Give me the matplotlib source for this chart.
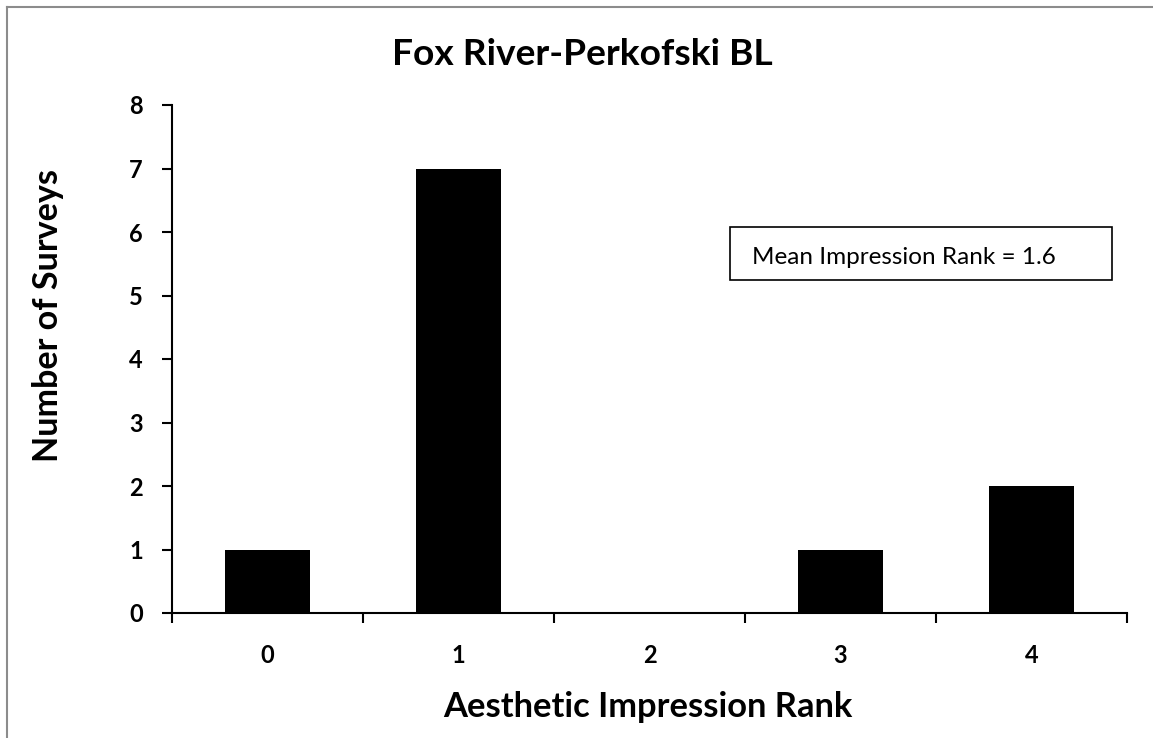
import numpy as np
import matplotlib
matplotlib.use('Agg')
import matplotlib.pyplot as plt
from matplotlib.patches import Rectangle
from matplotlib.lines import Line2D

# data
ranks = ['0', '1', '2', '3', '4']
surveys = [1, 7, 0, 1, 2]
mean_rank = 1.6

plt.rcParams['font.family'] = ['Lato', 'DejaVu Sans']

W, H = 1153, 738
fig = plt.figure(figsize=(W / 100, H / 100), dpi=100)


def fig_xy(px, py):
    """pixel position (from top left) to figure fraction"""
    return px / W, 1 - py / H


def fit_width(txt, target_px):
    """scale font size so the text is about target_px long"""
    r = fig.canvas.get_renderer()
    bb = txt.get_window_extent(renderer=r)
    w = bb.height if txt.get_rotation() == 90 else bb.width
    txt.set_fontsize(txt.get_fontsize() * target_px / w)


# chart area border (top and left only visible)
fig.add_artist(Line2D([7 / W, 1], [1 - 7 / H, 1 - 7 / H], color='#8c8c8c', lw=1.5))
fig.add_artist(Line2D([7 / W, 7 / W], [0, 1 - 7 / H], color='#8c8c8c', lw=1.5))

ax = fig.add_axes([172 / W, 1 - 613 / H, (1127 - 172) / W, (613 - 105) / H])
x = np.arange(len(ranks))
ax.bar(x, surveys, width=0.445, color='black')

ax.set_xlim(-0.5, len(ranks) - 0.5)
ax.set_ylim(0, 8)
ax.set_yticks(range(0, 9))
ax.set_xticks(x)
ax.set_xticklabels(ranks)
ax.set_xticks(np.arange(-0.5, len(ranks), 1), minor=True)
ax.tick_params(axis='x', which='major', length=0, pad=22, labelsize=17)
ax.tick_params(axis='x', which='minor', length=7, width=1.5, direction='out')
ax.tick_params(axis='y', length=7, width=1.5, direction='out', labelsize=17, pad=14)
for lab in ax.get_xticklabels() + ax.get_yticklabels():
    lab.set_fontweight('bold')

for side in ['top', 'right']:
    ax.spines[side].set_visible(False)
for side in ['left', 'bottom']:
    ax.spines[side].set_linewidth(1.5)

# titles and axis labels placed where the reference has them
t = fig.text(*fig_xy(582, 65), 'Fox River-Perkofski BL', fontsize=20, fontweight='bold',
             ha='center', va='baseline')
fit_width(t, 381)
xl = fig.text(*fig_xy(648, 717), 'Aesthetic Impression Rank', fontsize=20, fontweight='bold',
              ha='center', va='baseline')
fit_width(xl, 409)
yl = fig.text(*fig_xy(48, 316), 'Number of Surveys', fontsize=20, fontweight='bold',
              ha='center', va='center', rotation=90)
fit_width(yl, 293)

# mean box
fig.add_artist(Rectangle(fig_xy(730, 280), (1112 - 730) / W, (280 - 227) / H,
                         transform=fig.transFigure, fill=False, edgecolor='black', lw=1.2))
mt = fig.text(*fig_xy(752, 264), 'Mean Impression Rank = %.1f' % mean_rank, fontsize=15,
              ha='left', va='baseline')
fit_width(mt, 303)

fig.savefig('out.png', dpi=100)
